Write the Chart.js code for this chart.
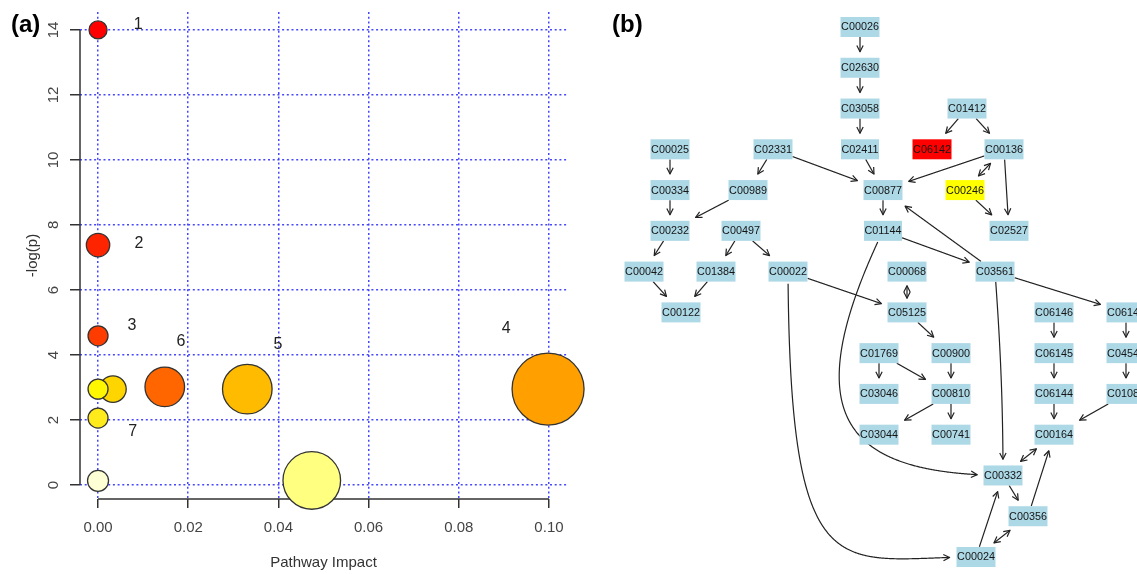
<!DOCTYPE html>
<html>
<head>
<meta charset="utf-8">
<script src="https://cdn.jsdelivr.net/npm/chart.js@4.4.1/dist/chart.umd.min.js"></script>
<style>
  html, body { margin: 0; padding: 0; background: #fff; overflow: hidden; }
  #wrap { position: relative; width: 1137px; height: 574px; }
  #bubbleChart { position: absolute; left: 0; top: 0; }
  #networkChart { position: absolute; left: 600px; top: 0; }
</style>
</head>
<body>
<div id="wrap">
  <canvas id="bubbleChart" width="600" height="574"></canvas>
  <canvas id="networkChart" width="537" height="574"></canvas>
</div>
<script>
// ---- panel (a): pathway bubbles ----
const impact = [0, 0, 0.0033, 0, 0, 0, 0, 0.0148, 0.0331, 0.0998, 0.0474];
const logP = [0.13, 2.06, 2.95, 2.95, 4.59, 7.38, 14.0, 3.02, 2.95, 2.95, 0.14];
const bubbleR = [10.5, 10, 13.3, 10, 10, 11.7, 9, 19.8, 24.8, 36, 28.8];
const bubbleFill = ['#ffffd6', '#ffea1c', '#ffd500', '#fff700', '#ff3c00', '#ff2400', '#ff0000',
                    '#ff6600', '#ffbb00', '#ff9f00', '#ffff80'];
const xTicks = [0, 0.02, 0.04, 0.06, 0.08, 0.10];
const yTicks = [0, 2, 4, 6, 8, 10, 12, 14];

// numbered pathway labels
const pathwayNo = ['1', '2', '3', '4', '5', '6', '7'];
const labelX = [0.0089, 0.0091, 0.0075, 0.0905, 0.0399, 0.0184, 0.0077];
const labelY = [14.15, 7.43, 4.9, 4.8, 4.31, 4.4, 1.65];

// ---- panel (b): compound network ----
const nodeIds = ['C00026', 'C02630', 'C03058', 'C02411', 'C00025', 'C02331', 'C01412', 'C06142', 'C00136',
  'C00334', 'C00989', 'C00877', 'C00246', 'C00232', 'C00497', 'C01144', 'C02527',
  'C00042', 'C01384', 'C00022', 'C00068', 'C03561', 'C00122', 'C05125', 'C06146', 'C06143',
  'C01769', 'C00900', 'C06145', 'C04546', 'C03046', 'C00810', 'C06144', 'C01089',
  'C03044', 'C00741', 'C00164', 'C00332', 'C00356', 'C00024'];
const nodeCol = [26.0, 26.0, 26.0, 26.0, 7.0, 17.3, 36.7, 33.2, 40.4,
  7.0, 14.8, 28.3, 36.5, 7.0, 14.1, 28.3, 40.9,
  4.4, 11.6, 18.8, 30.7, 39.5, 8.1, 30.7, 45.4, 52.6,
  27.9, 35.1, 45.4, 52.6, 27.9, 35.1, 45.4, 52.6,
  27.9, 35.1, 45.4, 40.3, 42.8, 37.6];
const nodeRow = [0, 1, 2, 3, 3, 3, 2, 3, 3,
  4, 4, 4, 4, 5, 5, 5, 5,
  6, 6, 6, 6, 6, 7, 7, 7, 7,
  8, 8, 8, 8, 9, 9, 9, 9,
  10, 10, 10, 11, 12, 13];
const nodeHighlight = { C06142: '#ff0000', C00246: '#ffff00' };

const edges = [
  ['C00026', 'C02630'], ['C02630', 'C03058'], ['C03058', 'C02411'], ['C02411', 'C00877'],
  ['C02331', 'C00989'], ['C02331', 'C00877'], ['C00025', 'C00334'], ['C00334', 'C00232'],
  ['C00989', 'C00232'], ['C00232', 'C00042'], ['C00497', 'C01384'], ['C00497', 'C00022'],
  ['C00042', 'C00122'], ['C01384', 'C00122'], ['C01412', 'C06142'], ['C01412', 'C00136'],
  ['C00136', 'C00877'], ['C00136', 'C00246'], ['C00136', 'C02527'], ['C00246', 'C02527'],
  ['C00877', 'C01144'], ['C01144', 'C03561'], ['C03561', 'C00877'], ['C01144', 'C00332'],
  ['C00022', 'C05125'], ['C00022', 'C00024'], ['C00068', 'C05125'], ['C05125', 'C00900'],
  ['C01769', 'C03046'], ['C01769', 'C00810'], ['C00900', 'C00810'], ['C00810', 'C03044'],
  ['C00810', 'C00741'], ['C03561', 'C00332'], ['C03561', 'C06143'],
  ['C06146', 'C06145'], ['C06145', 'C06144'], ['C06144', 'C00164'],
  ['C06143', 'C04546'], ['C04546', 'C01089'], ['C01089', 'C00164'],
  ['C00164', 'C00332'], ['C00332', 'C00356'], ['C00356', 'C00164'], ['C00356', 'C00024'],
  ['C00024', 'C00332']
];
const twoWay = ['C00136>C00246', 'C00068>C05125', 'C00164>C00332', 'C00356>C00024'];
// bezier control points (layout units) for the bent edges
const curveControls = {
  'C01144>C00332': [[19.2, 9.66], [24.8, 10.96]],
  'C00022>C00024': [[19.0, 14.05], [24.0, 13.0]],
  'C03561>C00332': [[40.0, 7.68], [40.3, 9.15]]
};

Chart.defaults.font.family = '"Liberation Sans", Arial, Helvetica, sans-serif';

const GRID_BLUE = 'rgba(50, 50, 255, 0.9)';

const bubbleExtras = {
  id: 'bubbleExtras',
  beforeDatasetsDraw(chart) {
    const { ctx, chartArea, scales: { x, y } } = chart;
    ctx.save();
    // R style axes: only span first..last tick
    ctx.strokeStyle = '#333';
    ctx.lineWidth = 1.5;
    ctx.beginPath();
    ctx.moveTo(chartArea.left, y.getPixelForValue(yTicks[0]));
    ctx.lineTo(chartArea.left, y.getPixelForValue(yTicks[yTicks.length - 1]));
    ctx.moveTo(x.getPixelForValue(xTicks[0]), chartArea.bottom);
    ctx.lineTo(x.getPixelForValue(xTicks[xTicks.length - 1]), chartArea.bottom);
    ctx.stroke();
    // rotated y tick labels
    ctx.fillStyle = '#444';
    ctx.font = '15px "Liberation Sans", Arial, sans-serif';
    ctx.textAlign = 'center';
    ctx.textBaseline = 'middle';
    yTicks.forEach(v => {
      ctx.save();
      ctx.translate(chartArea.left - 26, y.getPixelForValue(v));
      ctx.rotate(-Math.PI / 2);
      ctx.fillText(String(v), 0, 0);
      ctx.restore();
    });
    ctx.restore();
  },
  afterDatasetsDraw(chart) {
    const { ctx, scales: { x, y } } = chart;
    ctx.save();
    ctx.fillStyle = '#222';
    ctx.font = '16px "Liberation Sans", Arial, sans-serif';
    ctx.textAlign = 'center';
    ctx.textBaseline = 'middle';
    pathwayNo.forEach((t, i) => {
      ctx.fillText(t, x.getPixelForValue(labelX[i]), y.getPixelForValue(labelY[i]));
    });
    ctx.fillStyle = '#000';
    ctx.font = 'bold 24px "Liberation Sans", Arial, sans-serif';
    ctx.textAlign = 'left';
    ctx.textBaseline = 'alphabetic';
    ctx.fillText('(a)', 11, 32);
    ctx.restore();
  }
};

new Chart(document.getElementById('bubbleChart'), {
  type: 'bubble',
  data: {
    datasets: [{
      data: impact.map((v, i) => ({ x: v, y: logP[i], r: bubbleR[i] })),
      backgroundColor: bubbleFill,
      borderColor: '#333',
      borderWidth: 1.3,
      clip: false
    }]
  },
  options: {
    responsive: false,
    animation: false,
    layout: { autoPadding: false, padding: { top: 12, right: 33, left: 0, bottom: 0 } },
    plugins: { legend: { display: false }, tooltip: { enabled: false } },
    scales: {
      x: {
        type: 'linear', min: -0.004, max: 0.104,
        afterBuildTicks: s => { s.ticks = xTicks.map(v => ({ value: v })); },
        afterFit: s => { s.height = 75; },
        grid: { color: GRID_BLUE, lineWidth: 1.5, tickColor: '#333', tickWidth: 1.5, tickLength: 9, tickBorderDash: [] },
        border: { display: false, dash: [2, 2.7] },
        ticks: { autoSkip: false, maxRotation: 0, padding: 11, color: '#444', font: { size: 15 },
                 callback: v => v.toFixed(2) },
        title: { display: true, text: 'Pathway Impact', color: '#333', font: { size: 15 }, padding: { top: 0, bottom: 2 } }
      },
      y: {
        type: 'linear', min: -0.43, max: 14.55,
        afterBuildTicks: s => { s.ticks = yTicks.map(v => ({ value: v })); },
        afterFit: s => { s.width = 80; },
        grid: { color: GRID_BLUE, lineWidth: 1.5, tickColor: '#333', tickWidth: 1.5, tickLength: 10, tickBorderDash: [] },
        border: { display: false, dash: [2, 2.7] },
        ticks: { display: false },
        title: { display: true, text: '-log(p)', color: '#333', font: { size: 15 }, padding: { top: 24, bottom: 0 } }
      }
    }
  },
  plugins: [bubbleExtras]
});

// ---- network drawing ----
const NODE_FONT = '10.8px "Liberation Sans", Arial, sans-serif';
const END_GAP = 6;
const TWO_WAY_GAP = 4;

function bezierPoint(p0, p1, p2, p3, t) {
  const u = 1 - t;
  return {
    x: u * u * u * p0.x + 3 * u * u * t * p1.x + 3 * u * t * t * p2.x + t * t * t * p3.x,
    y: u * u * u * p0.y + 3 * u * u * t * p1.y + 3 * u * t * t * p2.y + t * t * t * p3.y
  };
}

function inside(box, p, gap) {
  return Math.abs(p.x - box.x) <= box.hw + gap && Math.abs(p.y - box.y) <= box.hh + gap;
}

function arrowHead(ctx, tip, from) {
  const ang = Math.atan2(tip.y - from.y, tip.x - from.x);
  const len = 7, spread = 0.47;
  ctx.beginPath();
  ctx.moveTo(tip.x - len * Math.cos(ang - spread), tip.y - len * Math.sin(ang - spread));
  ctx.lineTo(tip.x, tip.y);
  ctx.lineTo(tip.x - len * Math.cos(ang + spread), tip.y - len * Math.sin(ang + spread));
  ctx.stroke();
}

const networkPlugin = {
  id: 'network',
  afterDatasetsDraw(chart) {
    const { ctx, scales: { x, y } } = chart;
    const pts = chart.getDatasetMeta(0).data;
    ctx.save();
    ctx.font = NODE_FONT;
    const boxes = {};
    nodeIds.forEach((id, i) => {
      const w = Math.max(37, Math.round(ctx.measureText(id).width) + 1);
      boxes[id] = { x: pts[i].x, y: pts[i].y, hw: w / 2, hh: 10 };
    });

    ctx.strokeStyle = '#222';
    ctx.lineWidth = 1.2;
    ctx.lineJoin = 'round';
    edges.forEach(([a, b]) => {
      const key = a + '>' + b;
      const A = boxes[a], B = boxes[b];
      let c1, c2;
      if (curveControls[key]) {
        c1 = { x: x.getPixelForValue(curveControls[key][0][0]), y: y.getPixelForValue(curveControls[key][0][1]) };
        c2 = { x: x.getPixelForValue(curveControls[key][1][0]), y: y.getPixelForValue(curveControls[key][1][1]) };
      } else {
        c1 = { x: A.x + (B.x - A.x) / 3, y: A.y + (B.y - A.y) / 3 };
        c2 = { x: A.x + 2 * (B.x - A.x) / 3, y: A.y + 2 * (B.y - A.y) / 3 };
      }
      const both = twoWay.includes(key);
      const N = 400;
      const samples = [];
      for (let k = 0; k <= N; k++) samples.push(bezierPoint(A, c1, c2, B, k / N));
      const startGap = both ? TWO_WAY_GAP : 0;
      const endGap = both ? TWO_WAY_GAP : END_GAP;
      let i0 = 0, i1 = N;
      while (i0 < N && inside(A, samples[i0], startGap)) i0++;
      while (i1 > 0 && inside(B, samples[i1], endGap)) i1--;
      if (i1 <= i0) return;
      ctx.beginPath();
      ctx.moveTo(samples[i0].x, samples[i0].y);
      for (let k = i0 + 1; k <= i1; k++) ctx.lineTo(samples[k].x, samples[k].y);
      ctx.stroke();
      arrowHead(ctx, samples[i1], samples[Math.max(i0, i1 - 6)]);
      if (both) arrowHead(ctx, samples[i0], samples[Math.min(i1, i0 + 6)]);
    });

    ctx.textAlign = 'center';
    ctx.textBaseline = 'middle';
    nodeIds.forEach(id => {
      const bx = boxes[id];
      ctx.fillStyle = nodeHighlight[id] || '#add8e6';
      ctx.fillRect(bx.x - bx.hw, bx.y - bx.hh, bx.hw * 2, bx.hh * 2);
      ctx.fillStyle = '#151515';
      ctx.fillText(id, bx.x, bx.y + 0.5);
    });

    ctx.fillStyle = '#000';
    ctx.font = 'bold 24px "Liberation Sans", Arial, sans-serif';
    ctx.textAlign = 'left';
    ctx.textBaseline = 'alphabetic';
    ctx.fillText('(b)', 12, 32);
    ctx.restore();
  }
};

new Chart(document.getElementById('networkChart'), {
  type: 'scatter',
  data: {
    datasets: [{
      data: nodeIds.map((id, i) => ({ x: nodeCol[i], y: nodeRow[i] })),
      pointRadius: 0,
      pointHoverRadius: 0
    }]
  },
  options: {
    responsive: false,
    animation: false,
    layout: { autoPadding: false, padding: 0 },
    plugins: { legend: { display: false }, tooltip: { enabled: false } },
    scales: {
      x: { type: 'linear', display: false, min: 0, max: 53.7 },
      y: { type: 'linear', display: false, min: -0.662, max: 13.417, reverse: true }
    }
  },
  plugins: [networkPlugin]
});
</script>
</body>
</html>
